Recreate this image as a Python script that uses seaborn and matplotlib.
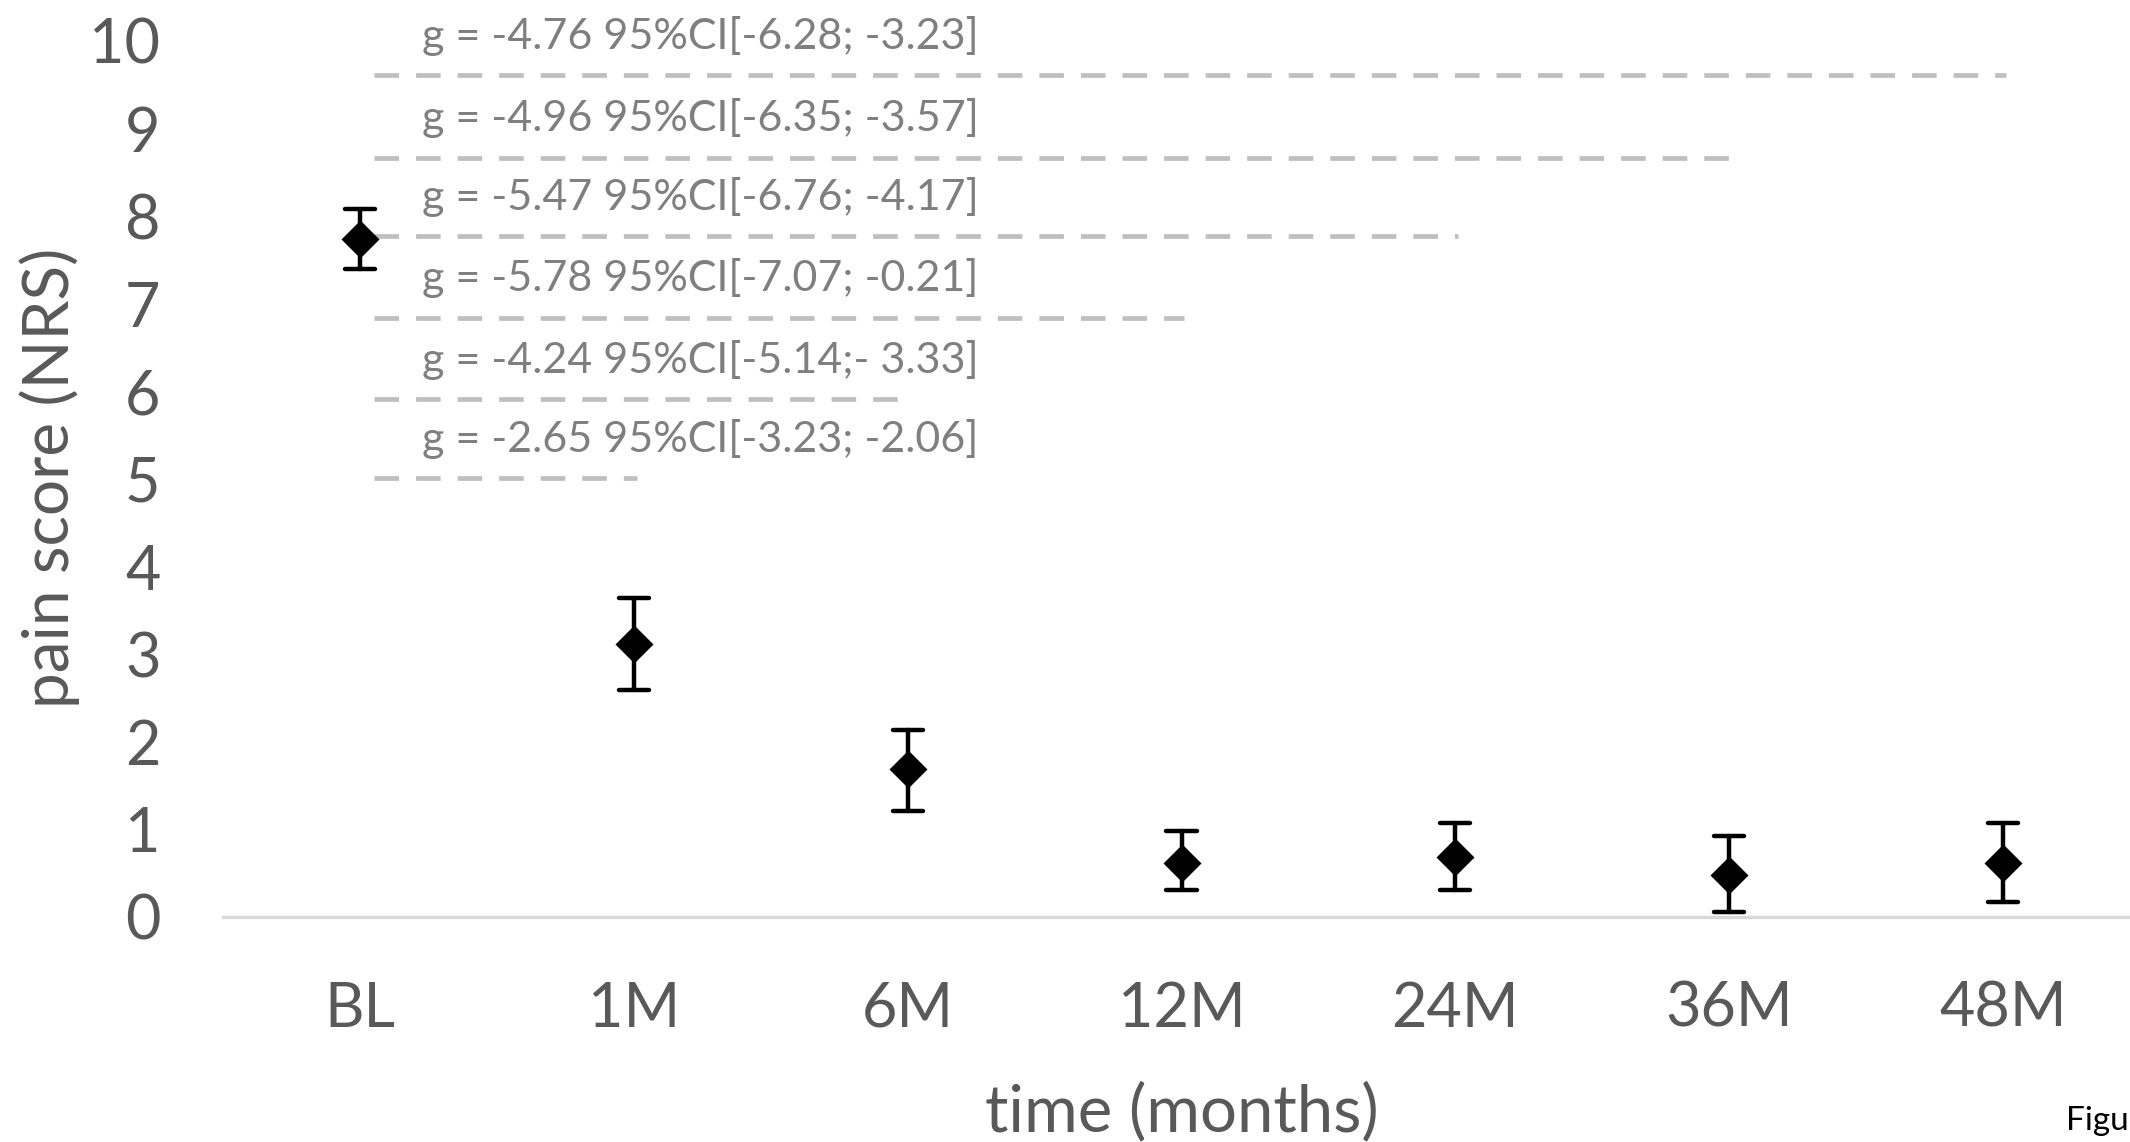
"""Pain score (NRS) over follow-up, mean with 95% CI and Hedges' g vs baseline."""
import matplotlib
matplotlib.use("Agg")
import matplotlib.pyplot as plt
import pandas as pd
import seaborn as sns

# time points and NRS values
TIMES = ["BL", "1M", "6M", "12M", "24M", "36M", "48M"]
MEAN = [7.74, 3.12, 1.69, 0.62, 0.68, 0.48, 0.62]
CI_LOW = [7.40, 2.59, 1.21, 0.31, 0.31, 0.06, 0.17]
CI_HIGH = [8.08, 3.64, 2.14, 0.98, 1.07, 0.93, 1.07]

# effect size annotations (baseline vs each later time point)
G_LABELS = [
    "g = -4.76 95%CI[-6.28; -3.23]",
    "g = -4.96 95%CI[-6.35; -3.57]",
    "g = -5.47 95%CI[-6.76; -4.17]",
    "g = -5.78 95%CI[-7.07; -0.21]",
    "g = -4.24 95%CI[-5.14;- 3.33]",
    "g = -2.65 95%CI[-3.23; -2.06]",
]
G_LEVELS = [9.61, 8.67, 7.77, 6.84, 5.91, 5.01]
G_TARGET = ["48M", "36M", "24M", "12M", "6M", "1M"]

TICK_GREY = "#595959"
TEXT_GREY = "#7f7f7f"
DASH_GREY = "#bfbfbf"
AXIS_GREY = "#d9d9d9"


def long_table() -> pd.DataFrame:
    # three rows per time point: low, mean, high -> median = mean, min/max = CI
    rows = []
    for t, m, lo, hi in zip(TIMES, MEAN, CI_LOW, CI_HIGH):
        for v in (lo, m, hi):
            rows.append({"time": t, "nrs": v})
    return pd.DataFrame(rows)


def main() -> None:
    sns.set_theme(style="white")
    plt.rcParams["font.family"] = ["Lato", "DejaVu Sans"]

    W, H = 2130, 1142
    fig = plt.figure(figsize=(W / 100, H / 100), dpi=100)
    ax = fig.add_axes([223 / W, 1 - 917 / H, (2140 - 223) / W, (917 - 41) / H])

    df = long_table()
    sns.pointplot(
        data=df, x="time", y="nrs", order=TIMES, ax=ax,
        estimator="median", errorbar=lambda v: (v.min(), v.max()),
        color="black", markers="D", markersize=17, linestyle="none",
        capsize=0.11, err_kws={"linewidth": 3.2},
    )

    # dashed comparison lines from baseline + g labels
    for label, level, tgt in zip(G_LABELS, G_LEVELS, G_TARGET):
        x_end = TIMES.index(tgt)
        ax.plot([0.05, x_end + 0.01], [level, level], color=DASH_GREY,
                lw=3.4, dashes=(5.2, 3.6), solid_capstyle="butt",
                dash_capstyle="butt", zorder=1, clip_on=False)
        ax.text(0.228, level + 0.45, label, color=TEXT_GREY, fontsize=31,
                ha="left", va="center", clip_on=False)

    ax.set_xlim(-0.5, len(TIMES) - 0.5)
    ax.set_ylim(0, 10)
    ax.set_yticks(range(0, 11))
    ax.tick_params(axis="both", length=0, labelsize=44, labelcolor=TICK_GREY)
    ax.tick_params(axis="y", pad=45)
    ax.tick_params(axis="x", pad=46)

    for side in ("top", "right", "left"):
        ax.spines[side].set_visible(False)
    ax.spines["bottom"].set_color(AXIS_GREY)
    ax.spines["bottom"].set_linewidth(2.4)

    ax.set_xlabel("time (months)", fontsize=47, color=TICK_GREY)
    ax.set_ylabel("pain score (NRS)", fontsize=46, color=TICK_GREY)
    ax.xaxis.label.set_va("center")
    ax.yaxis.label.set_va("center")
    ax.xaxis.set_label_coords(0.500, -0.222)
    ax.yaxis.set_label_coords(-0.0902, 0.501)

    # caption start, cut off by the right edge as in the source image
    fig.text(2066 / W, 1 - 1130 / H, "Figure 2", color="black", fontsize=24,
             ha="left", va="baseline")

    fig.savefig("out.png", dpi=100)
    plt.close(fig)


if __name__ == "__main__":
    main()
